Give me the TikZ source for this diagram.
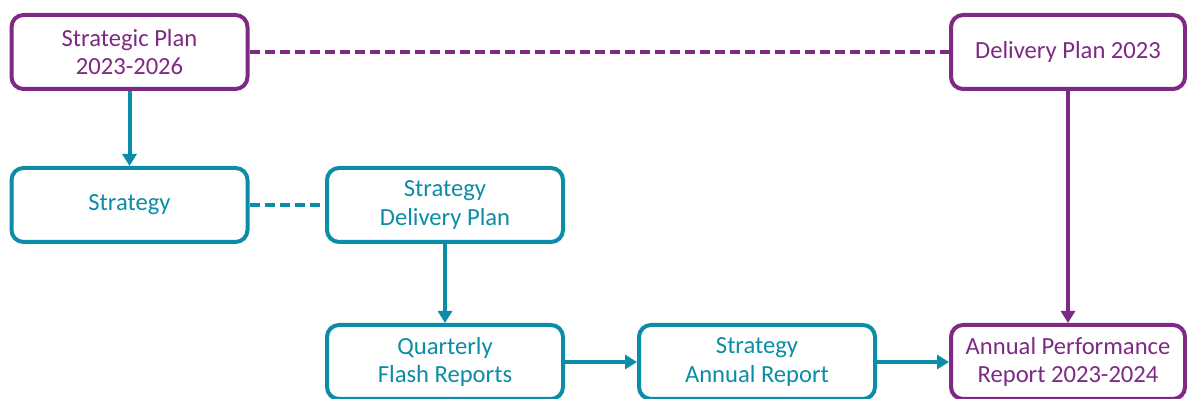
\documentclass[tikz,border=0pt]{standalone}
\usepackage{fontspec}
\setmainfont{Carlito}
\usetikzlibrary{arrows.meta}
\definecolor{plum}{HTML}{7E2A85}
\definecolor{tealc}{HTML}{0B8DA7}
\begin{document}
\begin{tikzpicture}[x=0.5pt,y=-0.5pt,
  box/.style={draw, line width=2pt, rounded corners=6pt, fill=white,
    minimum width=118pt, minimum height=37pt, align=center,
    font=\fontsize{12.3pt}{14.2pt}\selectfont, inner sep=2pt},
  pbox/.style={box, draw=plum, text=plum},
  tbox/.style={box, draw=tealc, text=tealc},
  conn/.style={line width=2pt},
  arr/.style={conn, -{Triangle[width=7pt,length=6pt]}},
  dsh/.style={conn, dash pattern=on 5pt off 2.5pt}]
\useasboundingbox (0,0) rectangle (1187,399);
\node[pbox] (sp) at (129.5,52) {Strategic Plan\\2023-2026};
\node[pbox, minimum width=117pt] (dp) at (1068,52) {Delivery Plan 2023};
\node[tbox] (st) at (129.5,205) {Strategy};
\node[tbox] (sdp) at (445,205) {Strategy\\Delivery Plan};
\node[tbox] (qfr) at (445,362) {Quarterly\\Flash Reports};
\node[tbox] (sar) at (757,362) {Strategy\\Annual Report};
\node[pbox, minimum width=117pt] (apr) at (1068,362) {Annual Performance\\Report 2023-2024};
\draw[dsh, draw=plum] (sp.east) -- (dp.west);
\draw[dsh, draw=tealc] (st.east) -- (sdp.west);
\draw[arr, draw=tealc, fill=tealc] (sp.south) -- (st.north);
\draw[arr, draw=tealc, fill=tealc] (sdp.south) -- (qfr.north);
\draw[arr, draw=tealc, fill=tealc] (qfr.east) -- (sar.west);
\draw[arr, draw=tealc, fill=tealc] (sar.east) -- (apr.west);
\draw[arr, draw=plum, fill=plum] (dp.south) -- (apr.north);
\end{tikzpicture}
\end{document}
